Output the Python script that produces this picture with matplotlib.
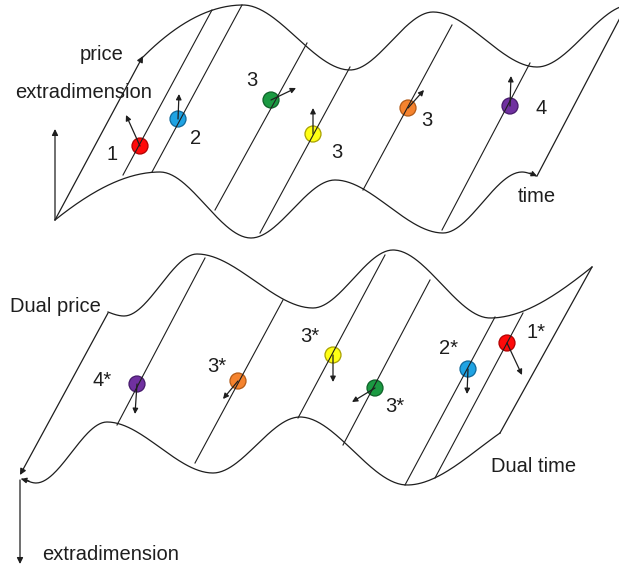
import numpy as np
import matplotlib
matplotlib.use("Agg")
import matplotlib.pyplot as plt
from matplotlib.patches import Circle

# ---- surface outlines (pixel coords of the picture, y down) ----
# anchor points of the wavy edges and the slope (dy/dx) at each anchor
top_back_x = [143, 243, 350, 433, 537, 623]
top_back_y = [57, 5, 70, 12, 67, 6]
top_back_m = [-1.0, 0, 0, 0, 0, -0.3]

top_front_x = [55, 160, 251, 335, 443, 522, 536]
top_front_y = [220, 172, 238, 180, 233, 172, 176]
top_front_m = [-0.8, 0, 0, 0, 0, 0, 0.4]

bot_back_x = [108, 124, 197, 313, 393, 490, 592]
bot_back_y = [312, 316, 254, 308, 250, 318, 267]
bot_back_m = [0.4, 0, 0, 0, 0, 0, -0.8]

bot_front_x = [22, 36, 107, 213, 300, 407, 500]
bot_front_y = [479, 483, 422, 473, 417, 485, 433]
bot_front_m = [0.3, 0, 0, 0, 0, 0, -0.7]

# straight generator lines: (x bottom, y bottom, x top, y top)
top_lines = [(123, 175, 212, 10), (152, 172, 242, 5), (215, 210, 307, 43),
             (260, 233, 350, 67), (363, 190, 452, 25), (442, 230, 530, 63)]
bot_lines = [(117, 425, 205, 258), (195, 463, 283, 300), (298, 418, 385, 255),
             (343, 445, 430, 280), (405, 485, 495, 317), (435, 478, 523, 313)]

# ---- balls: centre, colour, label, label position, arrow tip ----
ball_x = [140, 178, 271, 313, 408, 510,
          137, 238, 333, 375, 468, 507]
ball_y = [146, 119, 100, 134, 108, 106,
          384, 381, 355, 388, 369, 343]
ball_color = ["red", "blue", "green", "yellow", "orange", "purple",
              "purple", "orange", "yellow", "green", "blue", "red"]
ball_label = ["1", "2", "3", "3", "3", "4",
              "4*", "3*", "3*", "3*", "2*", "1*"]
label_x = [112, 196, 252, 337, 427, 541,
           102, 217, 310, 395, 449, 536]
label_y = [155, 138, 81, 152, 121, 109,
           380, 367, 336, 407, 349, 332]
tip_x = [126, 179, 296, 313, 424, 511,
         135, 223, 333, 352, 467, 522]
tip_y = [115, 94, 88, 108, 90, 76,
         414, 399, 382, 402, 394, 375]

palette = {
    "red": ("#ff0a0a", "#b00000"),
    "blue": ("#1fa3e3", "#10689a"),
    "green": ("#1b9a42", "#0d6127"),
    "yellow": ("#ffff14", "#a8a000"),
    "orange": ("#f5832e", "#b35a16"),
    "purple": ("#7030a0", "#45196a"),
}

INK = "#1e1e1e"
FONT = "Liberation Sans"
FS = 14.5


def hermite(xs, ys, ms, n=60):
    px, py = [], []
    for i in range(len(xs) - 1):
        x0, x1, y0, y1 = xs[i], xs[i + 1], ys[i], ys[i + 1]
        h = x1 - x0
        t = np.linspace(0, 1, n)
        h00 = 2 * t**3 - 3 * t**2 + 1
        h10 = t**3 - 2 * t**2 + t
        h01 = -2 * t**3 + 3 * t**2
        h11 = t**3 - t**2
        px.extend(x0 + t * h)
        py.extend(h00 * y0 + h10 * h * ms[i] + h01 * y1 + h11 * h * ms[i + 1])
    return np.array(px), np.array(py)


def arrow(ax, x0, y0, x1, y1, scale=9):
    ax.annotate("", xy=(x1, y1), xytext=(x0, y0),
                arrowprops=dict(arrowstyle="-|>", color=INK, lw=0.9,
                                mutation_scale=scale, shrinkA=0, shrinkB=0),
                zorder=4)


fig = plt.figure(figsize=(6.19, 5.71), dpi=100)
ax = fig.add_axes([0, 0, 1, 1])
ax.set_xlim(0, 619)
ax.set_ylim(571, 0)
ax.axis("off")

# wavy edges
for xs, ys, ms in [(top_back_x, top_back_y, top_back_m),
                   (top_front_x, top_front_y, top_front_m),
                   (bot_back_x, bot_back_y, bot_back_m),
                   (bot_front_x, bot_front_y, bot_front_m)]:
    cx, cy = hermite(xs, ys, ms)
    ax.plot(cx, cy, color=INK, lw=0.9, zorder=3)

# arrowheads at the end of the time axes
arrow(ax, 530, 173, 537, 176, scale=8)
arrow(ax, 29, 481, 21, 479, scale=8)

# side edges
ax.plot([621, 537], [16, 176], color=INK, lw=0.9, zorder=3)
ax.plot([592, 500], [267, 433], color=INK, lw=0.9, zorder=3)

# axes of the two surfaces
arrow(ax, 55, 220, 143, 56)   # price
arrow(ax, 55, 220, 55, 129)   # extradimension
arrow(ax, 108, 313, 20, 475)  # dual price
arrow(ax, 20, 480, 20, 564)   # extradimension (down)

# generator lines
for x0, y0, x1, y1 in top_lines + bot_lines:
    ax.plot([x0, x1], [y0, y1], color=INK, lw=0.8, zorder=3)

# balls with arrows and labels
for i in range(len(ball_x)):
    face, edge = palette[ball_color[i]]
    ax.add_patch(Circle((ball_x[i], ball_y[i]), 8, facecolor=face,
                        edgecolor=edge, lw=0.9, zorder=2))
    arrow(ax, ball_x[i], ball_y[i], tip_x[i], tip_y[i], scale=8)
    ax.text(label_x[i], label_y[i], ball_label[i], ha="center", va="center",
            fontsize=FS, family=FONT, color=INK)

# axis names
ax.text(102, 55, "price", ha="center", va="center", fontsize=FS, family=FONT, color=INK)
ax.text(84, 93, "extradimension", ha="center", va="center", fontsize=FS, family=FONT, color=INK)
ax.text(537, 196, "time", ha="center", va="center", fontsize=FS, family=FONT, color=INK)
ax.text(55, 307, "Dual price", ha="center", va="center", fontsize=FS, family=FONT, color=INK)
ax.text(534, 467, "Dual time", ha="center", va="center", fontsize=FS, family=FONT, color=INK)
ax.text(42, 555, "extradimension", ha="left", va="center", fontsize=FS, family=FONT, color=INK)

fig.savefig("out.png", dpi=100, facecolor="white")
